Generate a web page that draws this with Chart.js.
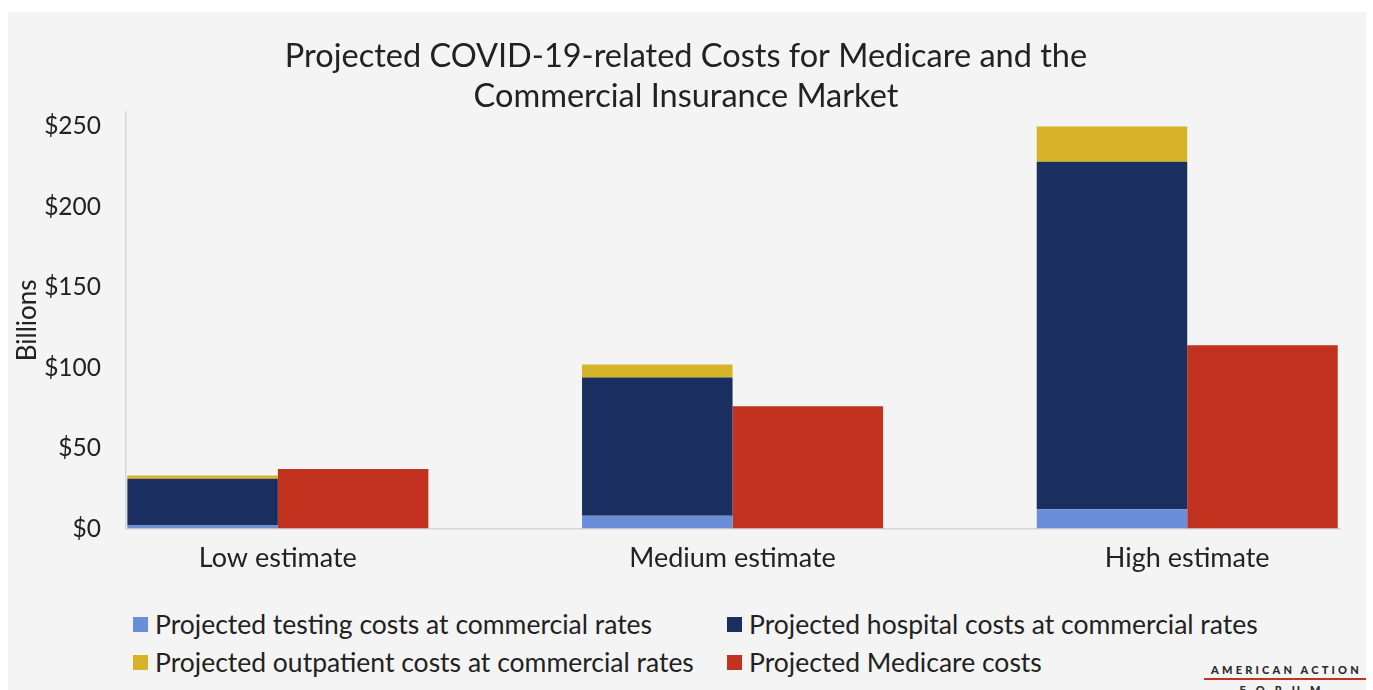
<!DOCTYPE html>
<html>
<head>
<meta charset="utf-8">
<script src="https://cdn.jsdelivr.net/npm/chart.js@4"></script>
<style>
  body { margin: 0; background: #fff; font-family: Lato, sans-serif; }
  #panel { position: absolute; left: 8px; top: 12px; width: 1358px; height: 678px; background: #f4f4f4; overflow: hidden; }
  #chartBox { position: absolute; left: 0; top: 0; width: 1358px; height: 583px; }
  #legend { position: absolute; left: 125px; top: 597px; display: grid; grid-template-columns: 594px auto; row-gap: 7px; }
  .item { display: flex; align-items: center; font-size: 26.5px; color: #222; line-height: 31px; white-space: nowrap; }
  .box { width: 15px; height: 15px; margin-right: 7px; }
  #logo { position: absolute; left: 1196px; top: 651px; width: 162px; text-align: center; font-weight: 900; color: #2a2a2a; }
  #logo .l1 { font-size: 11px; letter-spacing: 3.2px; margin-right: -3px; }
  #logo .bar { height: 2px; background: #c1321f; margin: 2px 0 3px 0; }
  #logo .l2 { font-size: 11px; letter-spacing: 10px; }
</style>
</head>
<body>
<div id="panel">
  <div id="chartBox"><canvas id="costChart"></canvas></div>
  <div id="legend"></div>
  <div id="logo"><div class="l1">AMERICAN ACTION</div><div class="bar"></div><div class="l2">FORUM</div></div>
</div>
<script>
// ==== Data (billions of dollars) ====
var categories = ['Low estimate', 'Medium estimate', 'High estimate']
var testingCosts = [2, 8, 12]
var hospitalCosts = [29, 86, 216]
var outpatientCosts = [2, 8, 22]
var medicareCosts = [37, 76, 114]
var yTicks = [0, 50, 100, 150, 200, 250]

var seriesNames = [
    'Projected testing costs at commercial rates',
    'Projected hospital costs at commercial rates',
    'Projected outpatient costs at commercial rates',
    'Projected Medicare costs'
]
var seriesColors = ['#6a8fd8', '#1a2e5f', '#d6b327', '#c1321f']

// bars sit on a linear x axis so the categories can be spaced like the original
function points(values) {
    return values.map(function (v, i) { return { x: i, y: v } })
}

var datasets = [
    { label: seriesNames[0], data: points(testingCosts), backgroundColor: seriesColors[0], stack: 'commercial' },
    { label: seriesNames[1], data: points(hospitalCosts), backgroundColor: seriesColors[1], stack: 'commercial' },
    { label: seriesNames[2], data: points(outpatientCosts), backgroundColor: seriesColors[2], stack: 'commercial' },
    { label: seriesNames[3], data: points(medicareCosts), backgroundColor: seriesColors[3], stack: 'medicare' }
]

var config = {
    type: 'bar',
    data: { datasets: datasets },
    options: {
        responsive: true,
        maintainAspectRatio: false,
        animation: false,
        categoryPercentage: 0.662,
        barPercentage: 1,
        layout: {
            padding: { top: 0, left: 24, right: 26, bottom: 8 }
        },
        plugins: {
            legend: { display: false }, // legend is built in html below
            tooltip: { enabled: false },
            title: {
                display: true,
                text: ['Projected COVID-19-related Costs for Medicare and the', 'Commercial Insurance Market'],
                color: '#222',
                font: { family: 'Lato', size: 32.5, weight: 'normal', lineHeight: 1.23 },
                padding: { top: 25, bottom: -5 }
            }
        },
        scales: {
            x: {
                type: 'linear',
                min: -0.334,
                max: 2.336,
                offset: false,
                grid: { display: false, drawTicks: false },
                border: { color: '#d6d6d6', width: 1.5 },
                afterBuildTicks: function (scale) {
                    scale.ticks = categories.map(function (c, i) { return { value: i } })
                },
                ticks: {
                    padding: 13,
                    color: '#222',
                    font: { family: 'Lato', size: 27 },
                    callback: function (value) { return categories[value] }
                }
            },
            y: {
                stacked: true,
                min: 0,
                max: 259,
                grid: { display: false, drawTicks: false },
                border: { color: '#d6d6d6', width: 1.5 },
                afterBuildTicks: function (scale) {
                    scale.ticks = yTicks.map(function (v) { return { value: v } })
                },
                afterFit: function (scale) { scale.width = 94 },
                ticks: {
                    padding: 25,
                    color: '#222',
                    font: { family: 'Lato', size: 24.5 },
                    callback: function (value) { return '$' + value }
                },
                title: {
                    display: true,
                    text: 'Billions',
                    color: '#222',
                    font: { family: 'Lato', size: 26 },
                    padding: { top: -20, bottom: 0 }
                }
            }
        }
    }
}

const costCtx = document.getElementById('costChart').getContext('2d')
new Chart(costCtx, config)

// ==== Legend: two columns like the original ====
var legendDiv = document.getElementById('legend')
for (var i in seriesNames) {
    var item = document.createElement('div')
    item.className = 'item'
    var box = document.createElement('span')
    box.className = 'box'
    box.style.background = seriesColors[i]
    item.appendChild(box)
    item.appendChild(document.createTextNode(seriesNames[i]))
    legendDiv.appendChild(item)
}
</script>
</body>
</html>
